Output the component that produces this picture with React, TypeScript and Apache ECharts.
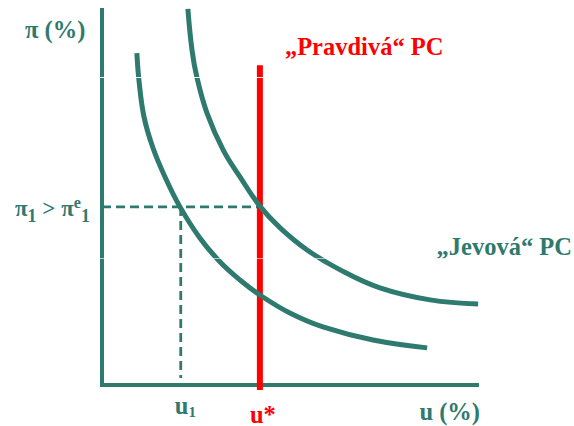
import { useEffect, useRef } from "react";
import * as echarts from "echarts";

const TEAL = "#2f7a6f";
const RED = "#ff0000";
const FONT = "Liberation Serif, Times New Roman, serif";

// Jevová (expectations-augmented) Phillips curves: [u, π]
const lowerCurve: [number, number][] = [
  [0.93, 8.85], [0.99, 8.08], [1.12, 7.15], [1.36, 6.32], [1.68, 5.55],
  [2.08, 4.75], [2.61, 3.92], [3.15, 3.28], [3.68, 2.8], [4.21, 2.4],
  [5.01, 1.92], [5.89, 1.55], [7.23, 1.2], [8.67, 0.99],
];
const upperCurve: [number, number][] = [
  [2.29, 10.03], [2.4, 8.93], [2.53, 8.21], [2.8, 7.25], [3.23, 6.27],
  [3.68, 5.55], [4.21, 4.77], [4.75, 4.19], [5.47, 3.6], [6.35, 3.07],
  [7.41, 2.59], [8.75, 2.27], [10.03, 2.16],
];

// Key values
const uStar = 4.21;
const u1 = 2.1;
const pi1 = 4.75;
const verticalRange: [number, number] = [-0.13, 8.53];
const u1DashBottom = 0.19;
const axisMax = 10;

// Labels
const yTitle = "π (%)";
const xTitle = "u (%)";
const pravdivaLabel = "„Pravdivá“ PC";
const jevovaLabel = "„Jevová“ PC";

export default function App() {
  const ref = useRef<HTMLDivElement>(null);

  useEffect(() => {
    if (!ref.current) return;
    const chart = echarts.init(ref.current, undefined, { renderer: "svg" });

    const axisCommon = {
      type: "value" as const,
      min: 0,
      max: axisMax,
      axisLine: { show: true, lineStyle: { color: TEAL, width: 4, cap: "square" as const } },
      axisTick: { show: false },
      axisLabel: { show: false },
      splitLine: { show: false },
    };

    const dash = { color: TEAL, width: 2.8, type: [9, 5] as number[] };

    chart.setOption({
      animation: false,
      grid: { left: 102, top: 10, width: 375, height: 375 },
      xAxis: { ...axisCommon },
      yAxis: { ...axisCommon },
      series: [
        {
          type: "line",
          data: [[0, pi1], [uStar, pi1]],
          showSymbol: false,
          lineStyle: dash,
          clip: false,
          z: 1,
        },
        {
          type: "line",
          data: [[u1, pi1], [u1, u1DashBottom]],
          showSymbol: false,
          lineStyle: dash,
          clip: false,
          z: 1,
        },
        {
          type: "line",
          data: [[uStar, verticalRange[0]], [uStar, verticalRange[1]]],
          showSymbol: false,
          lineStyle: { color: RED, width: 6 },
          clip: false,
          z: 2,
        },
        {
          type: "line",
          data: lowerCurve,
          smooth: 0.4,
          showSymbol: false,
          lineStyle: { color: TEAL, width: 5 },
          clip: false,
          z: 3,
        },
        {
          type: "line",
          data: upperCurve,
          smooth: 0.4,
          showSymbol: false,
          lineStyle: { color: TEAL, width: 5 },
          clip: false,
          z: 3,
        },
      ],
    });

    const pU1 = chart.convertToPixel({ gridIndex: 0 }, [u1, 0]) as number[];
    const pUStar = chart.convertToPixel({ gridIndex: 0 }, [uStar, 0]) as number[];
    const pPi1 = chart.convertToPixel({ gridIndex: 0 }, [0, pi1]) as number[];
    const pTop = chart.convertToPixel({ gridIndex: 0 }, [uStar, verticalRange[1]]) as number[];
    const pRight = chart.convertToPixel({ gridIndex: 0 }, [axisMax, 0]) as number[];

    const FS = 24.5;
    const plain = (color: string) => ({
      fill: color,
      fontSize: FS,
      fontWeight: "bold",
      fontFamily: FONT,
      verticalAlign: "middle",
    });
    const tok = (size: number, padTop: number) => ({
      fontSize: size,
      fontWeight: "bold",
      fontFamily: FONT,
      verticalAlign: "top",
      padding: [padTop, 0, 0, 0],
      fill: TEAL,
    });

    chart.setOption({
      graphic: {
        elements: [
          {
            type: "text",
            z: 10,
            style: { ...plain(TEAL), x: 25, y: 29, text: yTitle },
          },
          {
            type: "text",
            z: 10,
            style: { ...plain(RED), x: pTop[0] + 25, y: pTop[1] - 19, text: pravdivaLabel },
          },
          {
            type: "text",
            z: 10,
            style: { ...plain(TEAL), x: 572, y: 246, text: jevovaLabel, align: "right" },
          },
          {
            type: "text",
            z: 10,
            style: { ...plain(TEAL), x: pRight[0] + 3, y: pRight[1] + 26, text: xTitle, align: "right" },
          },
          {
            type: "text",
            z: 10,
            style: {
              x: pPi1[0] - 87,
              y: pPi1[1] - 13.5,
              text: "{m|π}{sb|1}{m| > π}{sp|e}{sb|1}",
              fill: TEAL,
              fontSize: 23,
              fontWeight: "bold",
              fontFamily: FONT,
              verticalAlign: "top",
              rich: {
                m: tok(23, 4),
                sb: tok(18, 14),
                sp: tok(16, 1),
              },
            },
          },
          {
            type: "text",
            z: 10,
            style: {
              x: pU1[0] - 6,
              y: pU1[1] + 8,
              text: "{m|u}{sb|1}",
              fill: TEAL,
              fontSize: FS,
              fontWeight: "bold",
              fontFamily: FONT,
              verticalAlign: "top",
              rich: {
                m: tok(FS, 0),
                sb: tok(15, 11),
              },
            },
          },
          {
            type: "text",
            z: 10,
            style: { ...plain(RED), x: pUStar[0] - 10, y: pUStar[1] + 29, text: "u*" },
          },
          {
            type: "line",
            z: 20,
            shape: { x1: 0, y1: 77.5, x2: 574, y2: 77.5 },
            style: { stroke: "#ffffff", lineWidth: 1, opacity: 0.9 },
          },
          {
            type: "line",
            z: 20,
            shape: { x1: 0, y1: 258.5, x2: 574, y2: 258.5 },
            style: { stroke: "#ffffff", lineWidth: 1, opacity: 0.6 },
          },
        ],
      },
    });

    return () => chart.dispose();
  }, []);

  return (
    <div
      ref={ref}
      style={{ position: "absolute", left: 0, top: 0, width: 574, height: 426, background: "#ffffff" }}
    />
  );
}
